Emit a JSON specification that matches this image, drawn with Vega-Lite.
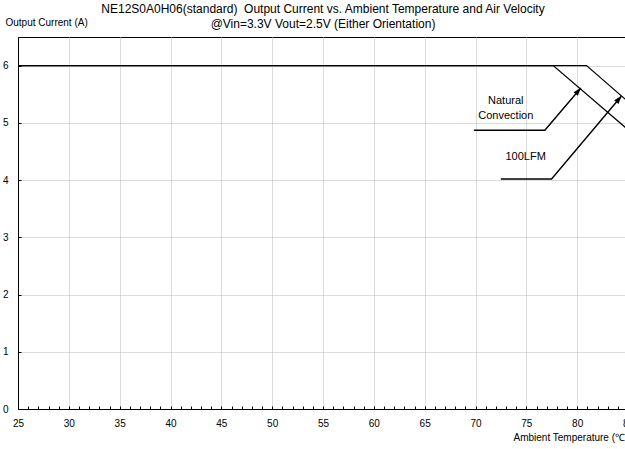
{
  "$schema": "https://vega.github.io/schema/vega-lite/v6.json",
  "width": 610,
  "height": 372,
  "autosize": "none",
  "padding": {"left": 18, "top": 37, "right": 0, "bottom": 40},
  "background": "white",
  "config": {
    "view": {"stroke": "black", "strokeWidth": 1},
    "font": "Liberation Sans",
    "axis": {"labelFont": "Liberation Sans", "titleFont": "Liberation Sans", "labelColor": "black", "titleColor": "black", "domainColor": "black", "tickColor": "black", "labelFontSize": 10, "titleFontSize": 10, "titleFontWeight": "normal"}
  },
  "title": {
    "text": ["NE12S0A0H06(standard)\u00a0 Output Current vs. Ambient Temperature and Air Velocity", "@Vin=3.3V Vout=2.5V (Either Orientation)"],
    "fontSize": 12,
    "fontWeight": "normal",
    "font": "Liberation Sans",
    "color": "black",
    "anchor": "middle",
    "lineHeight": 15,
    "offset": 6,
    "dy": 20,
    "dx": 0
  },
  "datasets": {
    "curves": [
      {"series": "Natural Convection", "T": 25, "I": 6},
      {"series": "Natural Convection", "T": 77.64, "I": 6},
      {"series": "Natural Convection", "T": 85, "I": 4.88},
      {"series": "100LFM", "T": 25, "I": 6},
      {"series": "100LFM", "T": 80.92, "I": 6},
      {"series": "100LFM", "T": 85, "I": 5.37}
    ],
    "leaders": [
      {"ann": "Natural Convection", "o": 1, "T": 69.84, "I": 4.87},
      {"ann": "Natural Convection", "o": 2, "T": 76.82, "I": 4.87},
      {"ann": "Natural Convection", "o": 3, "T": 80.36, "I": 5.61},
      {"ann": "100LFM", "o": 1, "T": 72.49, "I": 4.02},
      {"ann": "100LFM", "o": 2, "T": 77.48, "I": 4.02},
      {"ann": "100LFM", "o": 3, "T": 84.36, "I": 5.47}
    ],
    "tips": [
      {"ann": "Natural Convection", "T": 80.36, "I": 5.61},
      {"ann": "100LFM", "T": 84.36, "I": 5.47}
    ],
    "labels": [
      {"text": "Natural", "T": 72.98, "I": 5.38},
      {"text": "Convection", "T": 72.98, "I": 5.12},
      {"text": "100LFM", "T": 74.93, "I": 4.4}
    ]
  },
  "encoding": {
    "x": {
      "field": "T", "type": "quantitative",
      "scale": {"domain": [25, 85], "nice": false, "zero": false},
      "axis": {
        "values": [25,26,27,28,29,30,31,32,33,34,35,36,37,38,39,40,41,42,43,44,45,46,47,48,49,50,51,52,53,54,55,56,57,58,59,60,61,62,63,64,65,66,67,68,69,70,71,72,73,74,75,76,77,78,79,80,81,82,83,84,85],
        "labelExpr": "datum.value % 5 === 0 ? datum.label : ''",
        "grid": true,
        "gridColor": "#b8b8b8",
        "gridDash": [1, 1],
        "gridOpacity": {"condition": {"test": "datum.value % 5 === 0 && datum.value > 25", "value": 1}, "value": 0},
        "tickSize": -3,
        "labelPadding": 12,
        "labelFlush": false,
        "labelOverlap": false,
        "title": "Ambient Temperature (\u2103)",
        "titleAlign": "left",
        "titleAnchor": "start",
        "titleX": 495,
        "titleY": 28,
        "titleBaseline": "middle"
      }
    },
    "y": {
      "field": "I", "type": "quantitative",
      "scale": {"domain": [0, 6.5], "nice": false},
      "axis": {
        "values": [0,1,2,3,4,5,6],
        "format": "d",
        "grid": true,
        "gridColor": "#b8b8b8",
        "gridDash": [1, 1],
        "gridOpacity": {"condition": {"test": "datum.value > 0", "value": 1}, "value": 0},
        "tickSize": -3,
        "labelPadding": 13,
        "title": "Output Current (A)",
        "titleAngle": 0,
        "titleAlign": "left",
        "titleBaseline": "middle",
        "titleX": -13,
        "titleY": -15
      }
    }
  },
  "layer": [
    {
      "data": {"name": "curves"},
      "mark": {"type": "line", "color": "black", "strokeWidth": 1.2, "clip": true},
      "encoding": {
        "detail": {"field": "series"}
      }
    },
    {
      "data": {"name": "leaders"},
      "mark": {"type": "line", "color": "black", "strokeWidth": 1.4},
      "encoding": {
        "detail": {"field": "ann"},
        "order": {"field": "o"}
      }
    },
    {
      "data": {"name": "tips"},
      "mark": {"type": "point", "shape": "M0,0L-0.35,1L0.35,1Z", "size": 256, "angle": 40, "filled": true, "color": "black", "opacity": 1},
      "encoding": {}
    },
    {
      "data": {"name": "labels"},
      "mark": {"type": "text", "font": "Liberation Sans", "fontSize": 11, "color": "black", "align": "center", "baseline": "middle"},
      "encoding": {
        "text": {"field": "text"}
      }
    }
  ]
}
